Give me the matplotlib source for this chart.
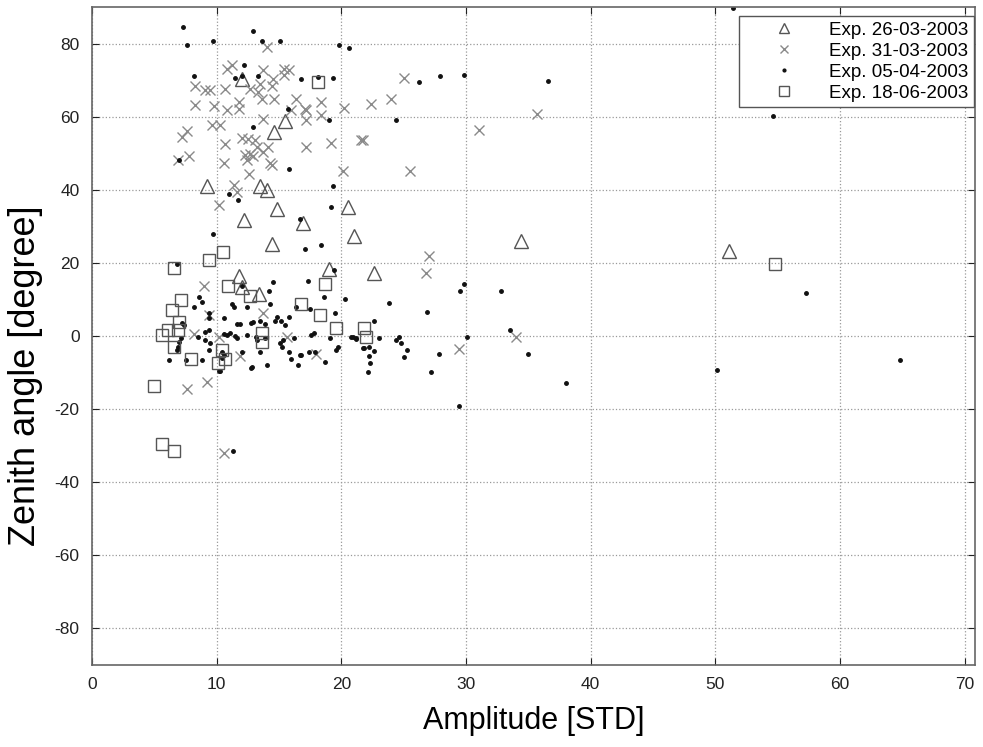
import matplotlib
matplotlib.use("Agg")
import matplotlib.pyplot as plt

plt.rcParams['font.family'] = ['Liberation Sans', 'DejaVu Sans']
plt.rcParams['axes.unicode_minus'] = False

# Exp. 26-03-2003 (triangles)
tri_x = [12.0, 15.5, 14.6, 9.2, 13.5, 14.0, 14.8, 12.2, 16.9, 20.5, 21.0, 14.4,
         11.75, 12.0, 13.4, 19.0, 22.6, 34.4, 51.1]
tri_y = [70.4, 58.8, 55.8, 41.0, 41.0, 39.9, 34.7, 31.7, 30.8, 35.3, 27.4, 25.1,
         16.4, 13.5, 11.5, 18.2, 17.1, 25.9, 23.3]

# Exp. 31-03-2003 (crosses)
crs_x = [14.0, 10.8, 11.2, 13.7, 15.4, 15.8, 15.4, 14.55, 12.7, 13.5, 14.4, 13.3,
         13.6, 14.6, 8.3, 9.1, 9.5, 10.7, 8.3, 9.75, 10.8, 11.8, 11.8, 16.4,
         16.0, 17.2, 18.4, 18.4, 20.2, 17.2, 13.75, 9.6, 10.3, 7.6, 7.2, 7.8,
         6.9, 10.7, 12.0, 12.55, 13.1, 13.2, 13.75, 14.15, 12.3, 12.7, 12.95, 12.4,
         14.3, 14.4, 10.55, 12.6, 17.2, 19.15, 21.6, 20.1, 11.35, 11.6, 10.2, 25.0,
         24.0, 22.4, 21.7, 25.5, 31.0, 35.7, 27.0, 26.8, 34.0, 29.4, 8.95, 9.4,
         8.15, 10.15, 13.75, 15.6, 11.9, 18.0, 7.6, 9.2, 10.55, 17.1]
crs_y = [79.0, 73.1, 74.0, 72.9, 73.1, 72.9, 71.3, 70.4, 67.6, 69.0, 68.5, 66.7,
         64.9, 64.9, 68.5, 67.2, 67.2, 67.6, 63.3, 62.8, 61.9, 64.0, 62.2, 64.9,
         61.9, 61.9, 64.0, 60.5, 62.4, 59.2, 59.4, 57.6, 57.6, 56.2, 54.4, 49.2,
         48.1, 52.6, 54.2, 54.0, 53.7, 51.7, 50.3, 51.7, 49.4, 49.9, 49.1, 48.1,
         47.2, 46.7, 47.2, 44.2, 51.7, 52.8, 53.7, 45.1, 41.2, 39.4, 35.8, 70.6,
         64.9, 63.5, 53.7, 45.1, 56.4, 60.6, 21.8, 17.3, -0.2, -3.6, 13.7, 5.7,
         0.5, -0.2, 6.2, -0.2, -5.6, -4.9, -14.5, -12.5, -32.0, 62.2]

# Exp. 05-04-2003 (dots)
dot_x = [7.3, 7.6, 9.7, 12.95, 13.6, 15.1, 19.85, 20.6, 12.2, 11.5, 12.0, 13.35,
         16.8, 18.1, 19.3, 8.2, 15.75, 19.0, 12.9, 7.0, 15.8, 19.3, 11.0, 11.7,
         19.2, 9.7, 16.7, 18.4, 17.1, 26.2, 27.9, 29.8, 36.6, 24.35, 29.85, 29.5,
         32.8, 23.8, 26.9, 22.6, 20.9, 21.2, 23.0, 24.4, 24.6, 24.75, 21.7, 22.6,
         25.3, 25.0, 22.2, 22.3, 22.1, 27.2, 27.8, 30.1, 29.45, 33.5, 35.0, 38.0,
         51.4, 52.6, 54.6, 57.3, 50.1, 64.8,
         6.8, 19.4, 20.3, 14.5, 12.0, 17.3, 14.2, 18.6, 14.3, 15.8, 14.8, 15.15,
         15.5, 16.4, 17.5, 19.5, 8.55, 8.8, 8.2, 9.4, 10.6, 11.4, 11.2, 12.4,
         12.75, 12.9, 11.6, 11.9, 13.5, 13.9, 14.7, 9.1, 9.35, 7.4, 7.2, 8.5,
         7.1, 7.0, 9.1, 9.5, 10.8, 11.1, 10.55, 11.5, 11.6, 13.2, 13.15, 12.4,
         13.9, 15.1, 15.3, 16.2, 17.6, 17.8, 19.1, 20.8, 21.2, 19.6, 19.75, 17.4,
         17.9, 16.7, 16.0, 15.2, 18.7, 16.5, 14.0, 12.75, 13.5, 12.0, 9.4, 6.2,
         7.5, 8.8, 10.55, 10.4, 10.4, 10.2, 6.8, 6.9, 9.35, 22.2, 12.8, 16.75,
         11.3, 10.3, 15.8, 21.8]
dot_y = [84.6, 79.7, 80.8, 83.4, 80.8, 80.6, 79.7, 78.7, 74.2, 70.6, 71.0, 71.0,
         70.2, 70.8, 70.5, 71.1, 62.0, 59.2, 57.2, 48.1, 45.6, 41.0, 38.8, 37.1,
         35.3, 28.0, 31.9, 24.8, 23.9, 69.4, 71.1, 71.5, 69.7, 59.2, 14.1, 12.4,
         12.4, 8.9, 6.5, 4.2, -0.4, -0.9, -0.6, -1.1, -0.2, -1.8, -3.4, -4.0,
         -3.8, -5.8, -5.6, -7.5, -9.9, -9.9, -5.0, -0.4, -19.3, 1.6, -5.0, -12.9,
         89.7, 71.3, 60.1, 11.7, -9.3, -6.7,
         19.8, 18.0, 10.1, 14.8, 13.7, 15.1, 12.4, 10.7, 8.7, 5.3, 5.3, 4.2,
         3.0, 8.0, 7.3, 6.2, 10.7, 9.4, 8.0, 6.4, 4.8, 8.0, 8.7, 8.0,
         3.5, 3.9, 3.3, 3.3, 4.2, 3.3, 4.2, 1.2, 1.6, 3.0, 3.5, -0.2,
         -0.6, -1.6, -1.1, -1.8, 0.3, 0.7, 0.5, 0.1, -0.6, -1.1, -0.4, 0.3,
         -0.5, -2.0, -1.1, -0.6, 0.3, 0.7, -0.6, -0.4, -0.6, -3.8, -3.1, -4.3,
         -4.3, -5.2, -6.4, -2.9, -7.0, -7.9, -7.9, -8.8, -4.3, -4.3, -3.8, -6.7,
         -6.7, -6.7, -5.2, -6.1, -4.3, -9.6, -3.8, -2.9, 4.8, -3.1, -8.6, -5.2,
         -31.6, -9.7, -4.3, -3.4]

# Exp. 18-06-2003 (squares)
sq_x = [18.1, 10.5, 9.35, 6.55, 10.9, 12.7, 18.7, 16.8, 18.3, 19.6, 21.8, 22.0,
        7.1, 6.4, 6.95, 6.9, 6.1, 5.6, 6.55, 7.9, 10.4, 10.7, 10.1, 13.6,
        13.6, 5.0, 5.6, 6.55, 54.8]
sq_y = [69.4, 23.0, 20.9, 18.5, 13.7, 10.9, 14.2, 8.7, 5.6, 2.1, 2.1, -0.2,
        9.8, 7.1, 3.9, 1.6, 1.6, 0.3, -2.9, -6.3, -3.8, -6.4, -7.5, 0.9,
        -1.7, -13.8, -29.6, -31.4, 19.8]

fig = plt.figure(figsize=(9.83, 7.47), dpi=100)
ax = fig.add_axes([0.0936, 0.110, 0.898, 0.8806])

ax.plot(tri_x, tri_y, linestyle='none', marker='^', markersize=9.5,
        markerfacecolor='none', markeredgecolor='#555555', markeredgewidth=1.0,
        label='Exp. 26-03-2003')
ax.plot(crs_x, crs_y, linestyle='none', marker='x', markersize=7.5,
        color='#8a8a8a', markeredgewidth=1.0, label='Exp. 31-03-2003')
ax.plot(dot_x, dot_y, linestyle='none', marker='.', markersize=5,
        color='#111111', label='Exp. 05-04-2003')
ax.plot(sq_x, sq_y, linestyle='none', marker='s', markersize=8.5,
        markerfacecolor='none', markeredgecolor='#555555', markeredgewidth=1.0,
        label='Exp. 18-06-2003')

ax.set_xlim(0, 70.8)
ax.set_ylim(-90, 90)
ax.set_xticks(range(0, 71, 10))
ax.set_yticks(range(-80, 81, 20))
ax.grid(True, linestyle=':', color='#999999', linewidth=0.9)
ax.tick_params(direction='in', top=True, right=True, length=5,
               labelsize=12.5, colors='#222222', pad=9)
for sp in ax.spines.values():
    sp.set_color('#666666')
    sp.set_linewidth(1.2)

ax.set_xlabel('Amplitude [STD]', fontsize=22, labelpad=10)
ax.set_ylabel('Zenith angle [degree]', fontsize=26)
ax.yaxis.set_label_coords(-0.056, 0.44)

leg = ax.legend(loc='upper right', bbox_to_anchor=(0.999, 0.986),
                fontsize=13.5, fancybox=False, framealpha=1,
                edgecolor='#555555', borderpad=0.3, handlelength=4.2,
                handletextpad=0.3, labelspacing=0.2, borderaxespad=0.0,
                markerscale=0.8)
leg.get_frame().set_linewidth(1.0)

fig.savefig('out.png', dpi=100)
